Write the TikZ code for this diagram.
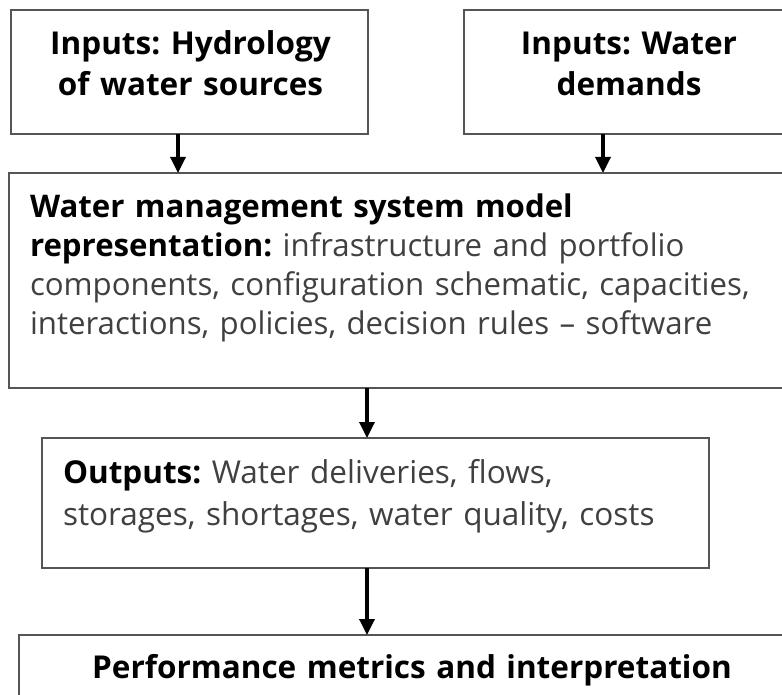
\documentclass[tikz,border=0pt]{standalone}
\usepackage{fontspec}
\setmainfont{Open Sans}
\usetikzlibrary{arrows.meta}
\definecolor{boxline}{HTML}{555555}
\definecolor{txtgray}{HTML}{404040}
\tikzset{
  box/.style={draw=boxline, line width=2pt, fill=white, rectangle, inner sep=0pt, outer sep=0pt, anchor=north west},
  boldtxt/.style={inner sep=0pt, outer sep=0pt, font=\fontsize{31.5}{41}\selectfont\bfseries\frenchspacing, text=black},
  bodytxt/.style={inner sep=0pt, outer sep=0pt, font=\fontsize{31.2}{39}\selectfont\frenchspacing, text=txtgray},
  arr/.style={line width=3.4pt, -{Triangle[length=16pt,width=15pt]}}
}
\begin{document}
\begin{tikzpicture}[x=1pt,y=-1pt]
\useasboundingbox (0,0) rectangle (782,695);
\clip (0,0) rectangle (782,695);
\fill[white] (0,0) rectangle (782,695);
% boxes
\node[box, minimum width=357, minimum height=124] (hyd) at (11,10) {};
\node[box, minimum width=346, minimum height=124] (dem) at (464,10) {};
\node[box, minimum width=821, minimum height=215] (model) at (9,173) {};
\node[box, minimum width=667, minimum height=130] (out) at (42,438) {};
\node[box, minimum width=791, minimum height=130] (perf) at (19,635) {};
% texts
\node[boldtxt, text width=350, align=center, anchor=base] (hydt) at (190.5,55) {Inputs: Hydrology\\of water sources};
\node[boldtxt, text width=330, align=center, anchor=base] (demt) at (629,55) {Inputs: Water\\demands};
\node[bodytxt, text width=780, align=left, anchor=base west] (modelt) at (30,218)
  {\textbf{\color{black}Water management system model}\\
   \textbf{\color{black}representation:} infrastructure and portfolio\\
   components, configuration schematic, capacities,\\
   interactions, policies, decision rules -- software};
\node[bodytxt, text width=640, align=left, anchor=base west, font=\fontsize{31.5}{42}\selectfont\frenchspacing] (outt) at (63,483)
  {\textbf{\color{black}Outputs:} Water deliveries, flows,\\
   storages, shortages, water quality, costs};
\node[boldtxt, text width=780, align=center, anchor=base] (perft) at (412,678) {Performance metrics and interpretation};
% arrows
\coordinate (x1) at (178,0);
\coordinate (x2) at (603,0);
\coordinate (x3) at (367,0);
\draw[arr] (hyd.south -| x1) -- (model.north -| x1);
\draw[arr] (dem.south -| x2) -- (model.north -| x2);
\draw[arr] (model.south -| x3) -- (out.north -| x3);
\draw[arr] (out.south -| x3) -- (perf.north -| x3);
\end{tikzpicture}
\end{document}
